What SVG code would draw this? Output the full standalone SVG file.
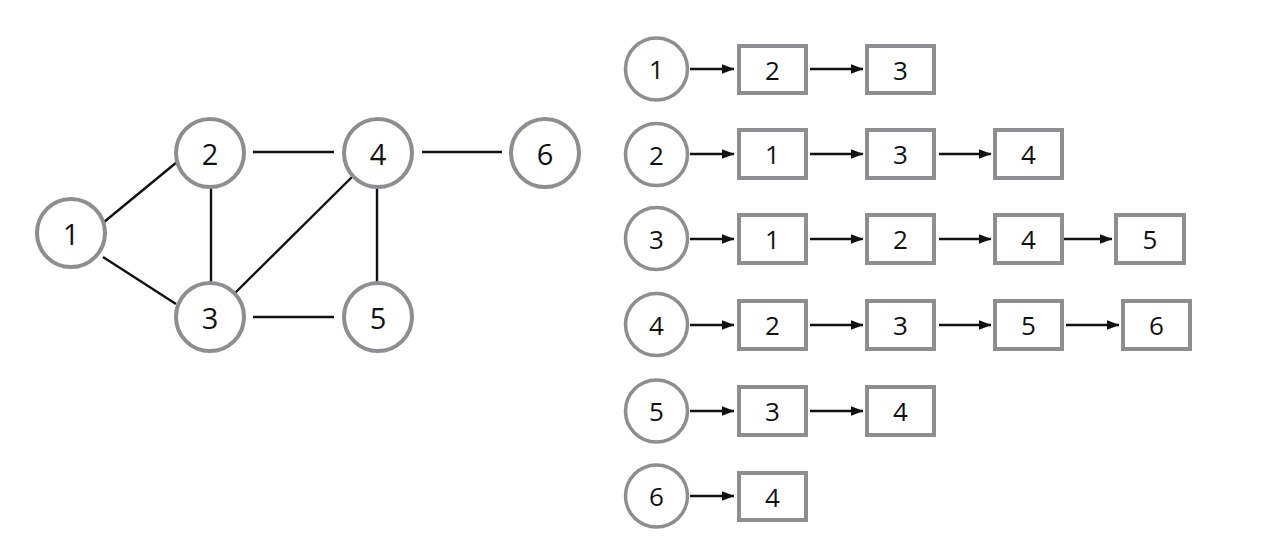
<svg xmlns="http://www.w3.org/2000/svg" width="1266" height="560" viewBox="0 0 1266 560">
<defs>
<style>
.gc{fill:#fff;stroke:#8e8e92;stroke-width:4}
.lc{fill:#fff;stroke:#8e8e92;stroke-width:3.5}
.bx{fill:#fff;stroke:#8e8e92;stroke-width:4}
.e{stroke:#111;stroke-width:2.4;fill:none}
.a{stroke:#111;stroke-width:2.4;fill:none;marker-end:url(#ah)}
.t{font-family:"Open Sans","Noto Sans","DejaVu Sans",sans-serif;fill:#111;text-anchor:middle;dominant-baseline:central}
.t1{font-size:29px}
.t2{font-size:26px}
</style>
<marker id="ah" markerWidth="13" markerHeight="11" refX="12.5" refY="5.5" orient="auto" markerUnits="userSpaceOnUse">
<path d="M0,0.5 L13,5.5 L0,10.5 Z" fill="#111"/>
</marker>
</defs>
<rect width="1266" height="560" fill="#fff"/>
<g id="edges">
<line class="e" x1="104" y1="222" x2="177" y2="162"/>
<line class="e" x1="103" y1="257" x2="176" y2="304"/>
<line class="e" x1="211" y1="187" x2="211" y2="283"/>
<line class="e" x1="253" y1="152" x2="334" y2="152"/>
<line class="e" x1="253" y1="317" x2="334" y2="317"/>
<line class="e" x1="235" y1="293" x2="353" y2="176"/>
<line class="e" x1="377" y1="187" x2="377" y2="283"/>
<line class="e" x1="422" y1="152" x2="502" y2="152"/>
</g>
<g id="g1"><circle class="gc" cx="71" cy="233" r="34"/><text class="t t1" x="71" y="233">1</text></g>
<g id="g2"><circle class="gc" cx="210" cy="153" r="34"/><text class="t t1" x="210" y="153">2</text></g>
<g id="g3"><circle class="gc" cx="210" cy="317" r="34"/><text class="t t1" x="210" y="317">3</text></g>
<g id="g4"><circle class="gc" cx="378" cy="153" r="34"/><text class="t t1" x="378" y="153">4</text></g>
<g id="g5"><circle class="gc" cx="378" cy="317" r="34"/><text class="t t1" x="378" y="317">5</text></g>
<g id="g6"><circle class="gc" cx="545" cy="153" r="34"/><text class="t t1" x="545" y="153">6</text></g>

<g id="list-arrows">
<line class="a" x1="690" y1="69" x2="734" y2="69"/>
<line class="a" x1="810" y1="69" x2="863" y2="69"/>
<line class="a" x1="690" y1="154" x2="734" y2="154"/>
<line class="a" x1="810" y1="154" x2="863" y2="154"/>
<line class="a" x1="939" y1="154" x2="991" y2="154"/>
<line class="a" x1="690" y1="239" x2="734" y2="239"/>
<line class="a" x1="810" y1="239" x2="863" y2="239"/>
<line class="a" x1="939" y1="239" x2="991" y2="239"/>
<line class="a" x1="1064" y1="239" x2="1112" y2="239"/>
<line class="a" x1="690" y1="325" x2="734" y2="325"/>
<line class="a" x1="810" y1="325" x2="863" y2="325"/>
<line class="a" x1="939" y1="325" x2="991" y2="325"/>
<line class="a" x1="1066" y1="325" x2="1119" y2="325"/>
<line class="a" x1="690" y1="411" x2="734" y2="411"/>
<line class="a" x1="810" y1="411" x2="863" y2="411"/>
<line class="a" x1="690" y1="496" x2="734" y2="496"/>
</g>

<g id="row1">
<g id="h1"><circle class="lc" cx="656.5" cy="69" r="31"/><text class="t t2" x="656.5" y="69">1</text></g>
<g id="r1b1"><rect class="bx" x="739" y="46" width="67" height="47"/><text class="t t2" x="772.5" y="69.5">2</text></g>
<g id="r1b2"><rect class="bx" x="867" y="46" width="67" height="47"/><text class="t t2" x="900.5" y="69.5">3</text></g>
</g>
<g id="row2">
<g id="h2"><circle class="lc" cx="656.5" cy="154.5" r="31"/><text class="t t2" x="656.5" y="154.5">2</text></g>
<g id="r2b1"><rect class="bx" x="739" y="130" width="67" height="48"/><text class="t t2" x="772.5" y="154">1</text></g>
<g id="r2b2"><rect class="bx" x="867" y="130" width="67" height="48"/><text class="t t2" x="900.5" y="154">3</text></g>
<g id="r2b3"><rect class="bx" x="995" y="130" width="67" height="48"/><text class="t t2" x="1028.5" y="154">4</text></g>
</g>
<g id="row3">
<g id="h3"><circle class="lc" cx="656.5" cy="238.5" r="31"/><text class="t t2" x="656.5" y="238.5">3</text></g>
<g id="r3b1"><rect class="bx" x="739" y="215" width="67" height="48"/><text class="t t2" x="772.5" y="239">1</text></g>
<g id="r3b2"><rect class="bx" x="867" y="215" width="67" height="48"/><text class="t t2" x="900.5" y="239">2</text></g>
<g id="r3b3"><rect class="bx" x="995" y="215" width="67" height="48"/><text class="t t2" x="1028.5" y="239">4</text></g>
<g id="r3b4"><rect class="bx" x="1116" y="215" width="68" height="48"/><text class="t t2" x="1150" y="239">5</text></g>
</g>
<g id="row4">
<g id="h4"><circle class="lc" cx="656.5" cy="324.5" r="31"/><text class="t t2" x="656.5" y="324.5">4</text></g>
<g id="r4b1"><rect class="bx" x="739" y="301" width="67" height="48"/><text class="t t2" x="772.5" y="325">2</text></g>
<g id="r4b2"><rect class="bx" x="867" y="301" width="67" height="48"/><text class="t t2" x="900.5" y="325">3</text></g>
<g id="r4b3"><rect class="bx" x="995" y="301" width="67" height="48"/><text class="t t2" x="1028.5" y="325">5</text></g>
<g id="r4b4"><rect class="bx" x="1123" y="301" width="67" height="48"/><text class="t t2" x="1156.5" y="325">6</text></g>
</g>
<g id="row5">
<g id="h5"><circle class="lc" cx="656.5" cy="411" r="31"/><text class="t t2" x="656.5" y="411">5</text></g>
<g id="r5b1"><rect class="bx" x="739" y="387" width="67" height="48"/><text class="t t2" x="772.5" y="411">3</text></g>
<g id="r5b2"><rect class="bx" x="867" y="387" width="67" height="48"/><text class="t t2" x="900.5" y="411">4</text></g>
</g>
<g id="row6">
<g id="h6"><circle class="lc" cx="656.5" cy="496" r="31"/><text class="t t2" x="656.5" y="496">6</text></g>
<g id="r6b1"><rect class="bx" x="739" y="473" width="67" height="47"/><text class="t t2" x="772.5" y="496.5">4</text></g>
</g>
</svg>
